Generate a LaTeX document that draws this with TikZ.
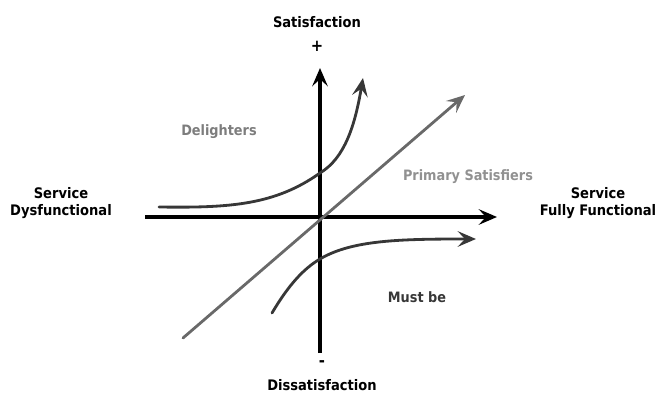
\documentclass[tikz,border=0pt]{standalone}
\usepackage{fontspec}
\setmainfont{DejaVu Sans Condensed}
\usetikzlibrary{arrows.meta, positioning}
\definecolor{curvegray}{RGB}{55,55,55}
\definecolor{diaggray}{RGB}{105,105,105}
\definecolor{zonegray}{RGB}{125,125,125}

\begin{document}
\begin{tikzpicture}[x=0.03cm, y=-0.03cm,
    axis/.style={line width=2.6pt, black, -{Stealth[length=0.55cm, width=0.47cm, inset=0.22cm]}},
    curve/.style={line width=2.4pt, curvegray, line cap=round, -{Stealth[length=0.55cm, width=0.47cm, inset=0.22cm]}},
    diag/.style={line width=2.4pt, diaggray, line cap=round, -{Stealth[length=0.55cm, width=0.47cm, inset=0.22cm]}},
    axislbl/.style={font=\bfseries\fontsize{12.4}{14.5}\selectfont, align=center, inner sep=0pt},
    zonelbl/.style={font=\bfseries\fontsize{12.2}{14.5}\selectfont, inner sep=0pt}
]
\useasboundingbox (0,0) rectangle (659,394);

% axes
\coordinate (xl) at (145,217);
\coordinate (xr) at (497,217);
\coordinate (yb) at (320,353);
\coordinate (yt) at (320,68);
\draw[axis] (xl) -- (xr);
\draw[axis] (yb) -- (yt);

% axis labels
\node[axislbl] (sat) at (317,22) {Satisfaction};
\node[axislbl, font=\bfseries\fontsize{14}{14}\selectfont] (plus) at (317,46) {+};
\node[axislbl, font=\bfseries\fontsize{14}{14}\selectfont] (minus) at (322,364) {-};
\node[axislbl] (dissat) at (322,385) {Dissatisfaction};
\node[axislbl] (dysf) at (61,203) {Service\\Dysfunctional};
\node[axislbl] (full) at (598,203) {Service\\Fully Functional};

% curves
\coordinate (ps0) at (183,338);
\coordinate (ps1) at (465,95);
\draw[diag] (ps0) -- (ps1);

\coordinate (dl0) at (159,207);
\coordinate (dl1) at (320,173);
\coordinate (dl2) at (363,78);
\draw[curve] (dl0) .. controls (230,208) and (275,205) .. (dl1)
                   .. controls (345,158) and (355,125) .. (dl2);

\coordinate (mb0) at (272,313);
\coordinate (mb1) at (320,259);
\coordinate (mb2) at (476,239);
\draw[curve] (mb0) .. controls (288,286) and (303,269) .. (mb1)
                   .. controls (352,240) and (400,239) .. (mb2);

% zone labels
\node[zonelbl, text=zonegray] (delight) at (219,132) {Delighters};
\node[zonelbl, text=zonegray!85] (primary) at (468,177) {Primary Satisfiers};
\node[zonelbl, text=curvegray] (mustbe) at (417,297) {Must be};
\end{tikzpicture}
\end{document}
